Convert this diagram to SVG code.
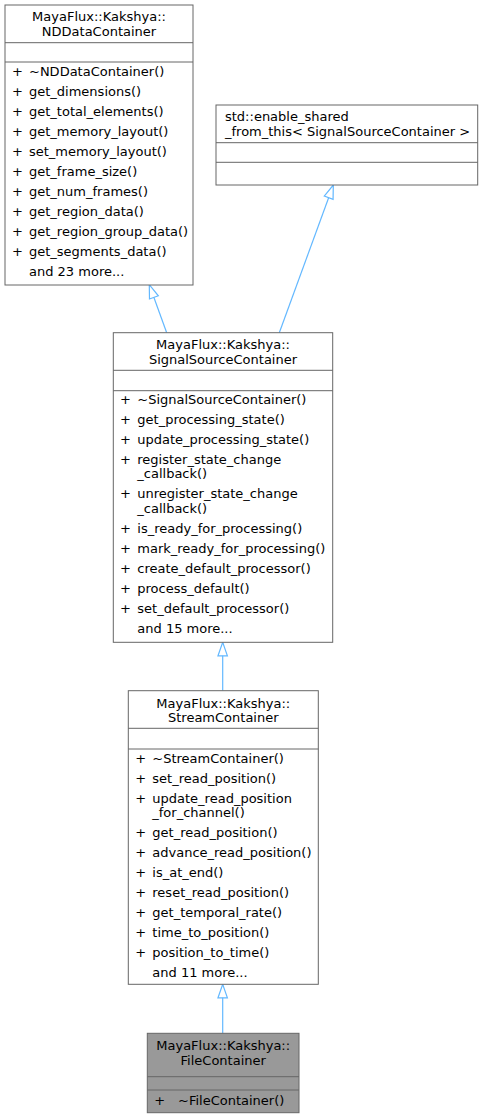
<svg xmlns="http://www.w3.org/2000/svg" width="483" height="1119" viewBox="0 0 483 1119">
<defs>
<style>
text{font-family:"DejaVu Sans","Liberation Sans",sans-serif;font-size:13px;fill:#000}
.t{text-anchor:middle}
.box{fill:#fff;stroke:#666;stroke-width:1}
.hl{fill:#999;stroke:#666;stroke-width:1}
.sep{stroke:#666;stroke-width:1}
.edge{fill:none;stroke:#63b8ff;stroke-width:1.2}
</style>
<marker id="inh" viewBox="0 0 14 10" refX="14" refY="5" markerWidth="14" markerHeight="10" markerUnits="userSpaceOnUse" orient="auto" overflow="visible">
<path d="M0.5,0.3 L14,5 L0.5,9.7 Z" fill="#fff" stroke="#63b8ff" stroke-width="1.2"/>
</marker>
</defs>
<rect width="483" height="1119" fill="#fff"/>
<g id="connectors">
<path class="edge" d="M166.7,332.7 L149.3,284.7" marker-end="url(#inh)"/>
<path class="edge" d="M279.3,332.7 L333.3,185" marker-end="url(#inh)"/>
<path class="edge" d="M222.7,690.7 L222.7,642.3" marker-end="url(#inh)"/>
<path class="edge" d="M222.7,1033.3 L222.7,984.3" marker-end="url(#inh)"/>
</g>
<g id="NDDataContainer">
<rect class="box" x="5" y="5" width="188" height="280"/>
<line class="sep" x1="5" y1="42.7" x2="193" y2="42.7"/>
<line class="sep" x1="5" y1="62" x2="193" y2="62"/>
<text class="t" x="99" y="21">MayaFlux::Kakshya::</text>
<text class="t" x="99" y="36">NDDataContainer</text>
<text x="12" y="76">+</text><text x="29" y="76">~NDDataContainer()</text>
<text x="12" y="96">+</text><text x="29" y="96">get_dimensions()</text>
<text x="12" y="116">+</text><text x="29" y="116">get_total_elements()</text>
<text x="12" y="136">+</text><text x="29" y="136">get_memory_layout()</text>
<text x="12" y="156">+</text><text x="29" y="156">set_memory_layout()</text>
<text x="12" y="176">+</text><text x="29" y="176">get_frame_size()</text>
<text x="12" y="196">+</text><text x="29" y="196">get_num_frames()</text>
<text x="12" y="216">+</text><text x="29" y="216">get_region_data()</text>
<text x="12" y="236">+</text><text x="29" y="236">get_region_group_data()</text>
<text x="12" y="256">+</text><text x="29" y="256">get_segments_data()</text>
<text x="29" y="276">and 23 more...</text>
</g>
<g id="enable_shared_from_this">
<rect class="box" x="216" y="105" width="261.7" height="80"/>
<line class="sep" x1="216" y1="142.7" x2="477.7" y2="142.7"/>
<line class="sep" x1="216" y1="162.3" x2="477.7" y2="162.3"/>
<text x="225" y="121">std::enable_shared</text>
<text x="225" y="136">_from_this&lt; SignalSourceContainer &gt;</text>
</g>
<g id="SignalSourceContainer">
<rect class="box" x="113.3" y="332.7" width="219.4" height="309.6"/>
<line class="sep" x1="113.3" y1="370.3" x2="332.7" y2="370.3"/>
<line class="sep" x1="113.3" y1="390.7" x2="332.7" y2="390.7"/>
<text class="t" x="223" y="348.5">MayaFlux::Kakshya::</text>
<text class="t" x="223" y="363.5">SignalSourceContainer</text>
<text x="120" y="403.5">+</text><text x="137.3" y="403.5">~SignalSourceContainer()</text>
<text x="120" y="423.5">+</text><text x="137.3" y="423.5">get_processing_state()</text>
<text x="120" y="443.5">+</text><text x="137.3" y="443.5">update_processing_state()</text>
<text x="120" y="463.5">+</text><text x="137.3" y="463.5">register_state_change</text>
<text x="137.3" y="478">_callback()</text>
<text x="120" y="498">+</text><text x="137.3" y="498">unregister_state_change</text>
<text x="137.3" y="512.5">_callback()</text>
<text x="120" y="532.5">+</text><text x="137.3" y="532.5">is_ready_for_processing()</text>
<text x="120" y="552.5">+</text><text x="137.3" y="552.5">mark_ready_for_processing()</text>
<text x="120" y="572.5">+</text><text x="137.3" y="572.5">create_default_processor()</text>
<text x="120" y="592.5">+</text><text x="137.3" y="592.5">process_default()</text>
<text x="120" y="612.5">+</text><text x="137.3" y="612.5">set_default_processor()</text>
<text x="137.3" y="632.5">and 15 more...</text>
</g>
<g id="StreamContainer">
<rect class="box" x="128.3" y="690.7" width="190" height="293.6"/>
<line class="sep" x1="128.3" y1="728.3" x2="318.3" y2="728.3"/>
<line class="sep" x1="128.3" y1="749" x2="318.3" y2="749"/>
<text class="t" x="223.3" y="708">MayaFlux::Kakshya::</text>
<text class="t" x="223.3" y="722">StreamContainer</text>
<text x="135.3" y="762.5">+</text><text x="152.3" y="762.5">~StreamContainer()</text>
<text x="135.3" y="782.5">+</text><text x="152.3" y="782.5">set_read_position()</text>
<text x="135.3" y="802.5">+</text><text x="152.3" y="802.5">update_read_position</text>
<text x="152.3" y="817">_for_channel()</text>
<text x="135.3" y="837">+</text><text x="152.3" y="837">get_read_position()</text>
<text x="135.3" y="857">+</text><text x="152.3" y="857">advance_read_position()</text>
<text x="135.3" y="877">+</text><text x="152.3" y="877">is_at_end()</text>
<text x="135.3" y="897">+</text><text x="152.3" y="897">reset_read_position()</text>
<text x="135.3" y="917">+</text><text x="152.3" y="917">get_temporal_rate()</text>
<text x="135.3" y="937">+</text><text x="152.3" y="937">time_to_position()</text>
<text x="135.3" y="957">+</text><text x="152.3" y="957">position_to_time()</text>
<text x="152.3" y="977">and 11 more...</text>
</g>
<g id="FileContainer">
<rect class="hl" x="147.3" y="1033.3" width="151.7" height="79.4"/>
<line class="sep" x1="147.3" y1="1076.7" x2="299" y2="1076.7"/>
<line class="sep" x1="147.3" y1="1090" x2="299" y2="1090"/>
<text class="t" x="223.2" y="1049.5">MayaFlux::Kakshya::</text>
<text class="t" x="223.2" y="1064.5">FileContainer</text>
<text x="154.3" y="1104.5">+</text><text x="178" y="1104.5">~FileContainer()</text>
</g>
</svg>
